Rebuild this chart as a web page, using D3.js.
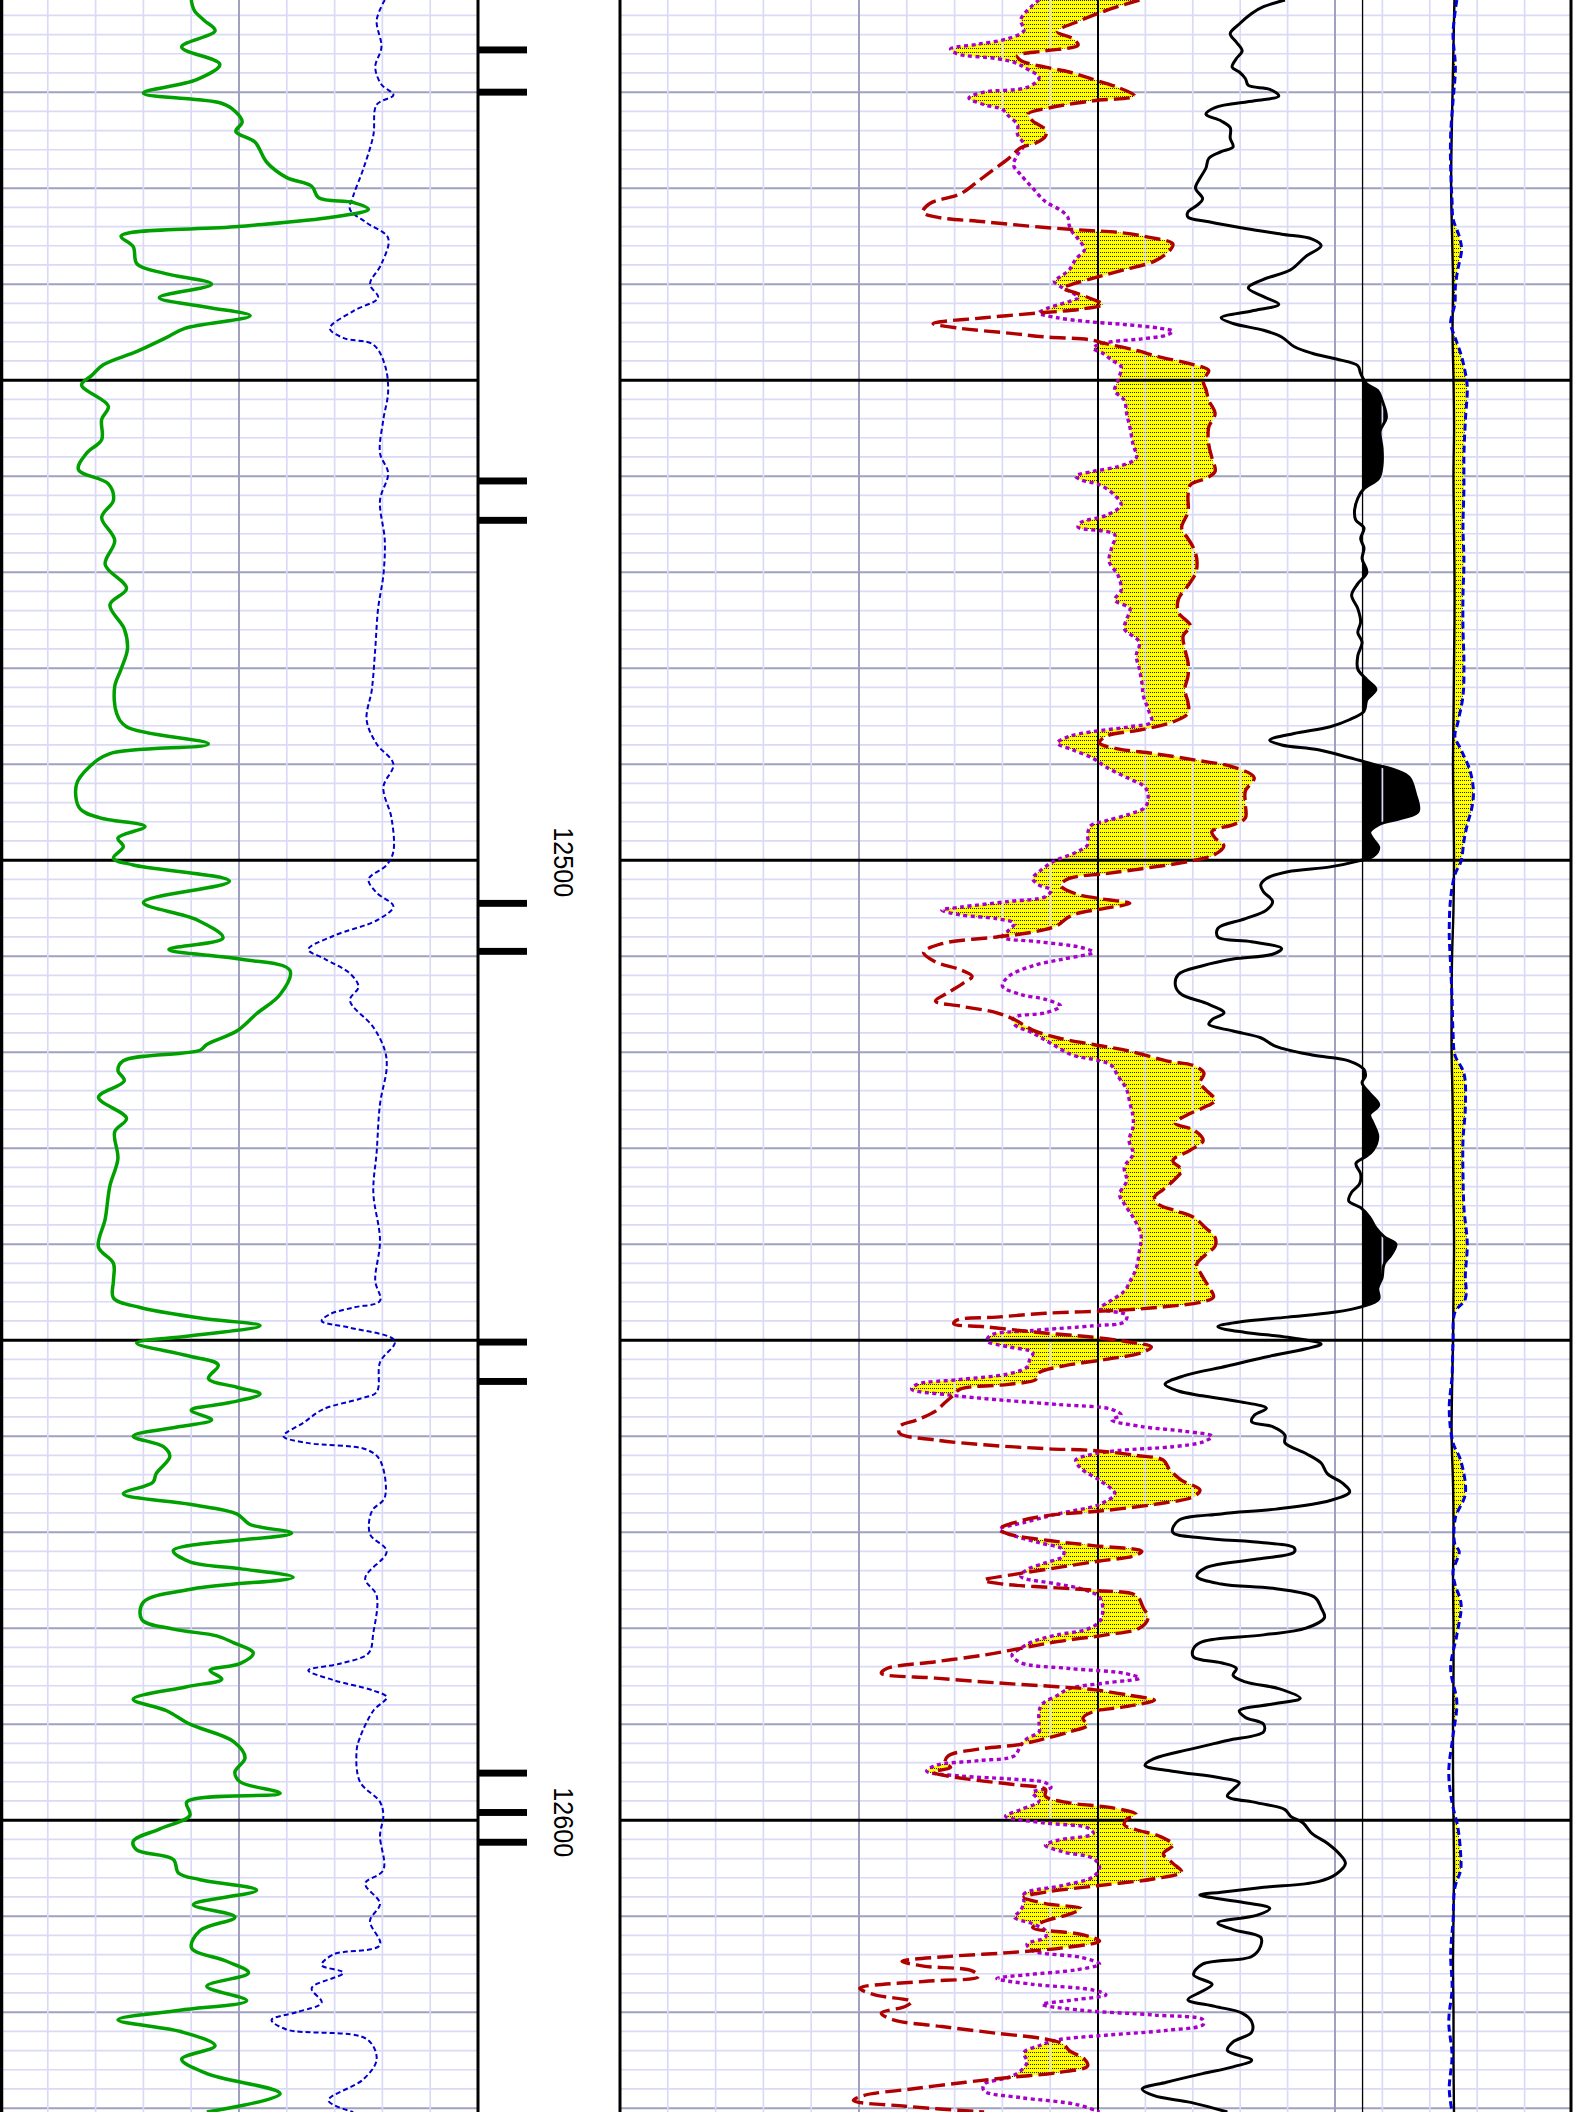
<!DOCTYPE html>
<html><head><meta charset="utf-8">
<script src="https://cdn.jsdelivr.net/npm/d3@7"></script>
<style>html,body{margin:0;padding:0;background:#fff;} svg{display:block;}</style>
</head><body>
<script>
// ---------- DATA (depth, value) ----------
const DEPTH_TOP = 12410.4, DEPTH_BOTTOM = 12630.4;
const DEPTH_LABELS = [12500, 12600];
const DEPTH_MARKS = [12415.6, 12420.0, 12460.5, 12464.6, 12504.5, 12509.5, 12550.2, 12554.3, 12595.1, 12599.2, 12602.3];
const RT_CUTOFF = 156;
// Track 1: gamma ray (API, 0-150)
const GR = [[12410.4,60],[12411.5,61],[12412.5,64],[12413.6,67.5],[12415.3,57],[12417.1,69],[12418.7,61.7],[12420.1,45],[12421.1,69],[12421.7,72.7],[12423.1,76],[12424.1,74],[12425.2,80],[12427.3,83.7],[12428.9,90],[12429.8,97.8],[12431,100],[12431.5,111],[12432.2,115.6],[12433,104.6],[12434,74.8],[12435,38],[12436.1,41.8],[12437.9,43],[12438.9,52],[12440,66.4],[12441.4,50],[12442.4,65],[12443.3,78.5],[12444.6,58],[12445.6,52],[12447,43],[12448.4,32.4],[12449.5,28.8],[12450.5,25.6],[12452.7,34],[12454.1,31.9],[12456.2,31.9],[12457.6,27.2],[12459.3,24.6],[12460.8,34],[12462.5,35.6],[12464.3,31.9],[12466.7,36],[12469.2,33],[12471.7,39.7],[12473.4,34.5],[12475.9,39],[12478,40],[12480.1,38],[12481.9,36],[12484.7,36.6],[12486.1,39.7],[12487.9,65.4],[12488.9,34.5],[12490.3,28],[12492.1,24],[12494.6,25],[12495.6,31.4],[12496.5,45.5],[12497.7,37],[12498.6,38.7],[12499.8,35.6],[12500.5,41.8],[12502.2,72],[12504.4,45],[12506.2,61.7],[12508.1,70],[12509.3,53],[12510.3,75.3],[12511.5,91],[12514,87.9],[12516,80.5],[12517.8,74.3],[12519.2,64.9],[12519.8,62.8],[12520.9,38.7],[12521.9,37],[12523,39],[12524.7,30.9],[12526.9,39.7],[12528.3,36],[12531.1,37],[12533.9,34.5],[12537.4,33],[12540.3,30.9],[12542,35.6],[12543.8,35.6],[12545.6,35.6],[12546.6,44],[12547.7,62.8],[12548.5,81.6],[12549.6,58.6],[12550.3,42.9],[12551.6,58.6],[12552.6,68.5],[12554,65.4],[12554.9,74.3],[12555.6,81.6],[12556.5,72.2],[12557.3,60],[12558.3,66.4],[12559,56.5],[12560,41.8],[12561.1,51.3],[12562.1,53.3],[12563.9,49],[12564.8,48],[12566,38.7],[12567.1,59.6],[12568.1,74.3],[12569.2,78.5],[12570.1,91.5],[12571.9,54.4],[12573.1,59.6],[12573.8,75.3],[12574.7,92],[12575.9,60.7],[12577.3,45],[12579.1,44.5],[12580.1,54.4],[12580.8,68],[12581.5,73.2],[12582.6,79.5],[12583.7,75.3],[12584.4,65.9],[12585.3,69.6],[12586.1,58.6],[12587.4,41.8],[12588.6,52.3],[12590,59.6],[12591.8,73.2],[12593.5,76.9],[12595,73.7],[12596,75.3],[12597.2,87.9],[12598.1,58.6],[12599.5,59.6],[12600.9,50.2],[12602.2,41.8],[12603.1,42.9],[12604.1,54.4],[12605.5,56],[12606.2,62.8],[12607.3,80.5],[12608.8,60.7],[12610.1,73.7],[12611.5,62.8],[12613.3,60.1],[12614.7,71.1],[12615.9,78],[12617.3,64.9],[12618.8,77.4],[12619.8,56.5],[12620.8,37],[12622.1,57.5],[12623.5,67.5],[12624.9,57],[12626.4,64.9],[12628.5,87.9],[12630.4,64.9]];
// Track 1: caliper (in, 6-16)
const CALI = [[12410.4,14.05],[12412.5,13.88],[12415.3,13.98],[12417.4,13.85],[12419.2,13.98],[12420.3,14.23],[12421.3,13.88],[12424.5,13.81],[12428,13.6],[12430.8,13.39],[12432.2,13.32],[12433.6,13.67],[12435.2,14.12],[12437.9,13.98],[12440,13.74],[12441.4,13.91],[12442.8,13.39],[12444.6,12.9],[12445.6,13.18],[12446.3,13.81],[12448.4,14.05],[12451.2,14.12],[12454.1,14.02],[12457.6,13.95],[12459.7,14.12],[12462.5,13.95],[12466.7,14.05],[12470.3,14.02],[12473.8,13.91],[12478,13.85],[12482.2,13.78],[12485.4,13.67],[12487.9,13.88],[12490,14.23],[12492.4,14.02],[12495.6,14.19],[12499.1,14.23],[12500.5,14.09],[12502,13.71],[12503.4,13.88],[12504.8,14.23],[12506.2,13.91],[12507.9,12.97],[12509.3,12.45],[12510.3,12.8],[12511.8,13.32],[12513.2,13.5],[12514.6,13.32],[12517.4,13.81],[12519.8,14.05],[12521.6,14.09],[12525.4,13.95],[12530.4,13.88],[12534.6,13.81],[12539.6,13.95],[12543.8,13.85],[12545.9,13.95],[12546.6,13.39],[12547.3,12.9],[12548,12.73],[12548.7,13.32],[12550.1,14.26],[12552.3,13.95],[12555.4,13.88],[12556.1,13.53],[12557.2,12.76],[12558.6,12.35],[12560,11.93],[12560.7,12.42],[12561.4,13.67],[12562.5,13.95],[12566.4,14.05],[12567.8,13.78],[12570.2,13.74],[12572,14.09],[12574.8,13.64],[12576.6,13.88],[12580.5,13.81],[12582.6,13.71],[12583.7,13.11],[12584.4,12.45],[12585.4,12.97],[12586.5,13.81],[12587.2,14.09],[12588.6,13.81],[12591.4,13.53],[12592.8,13.46],[12596,13.53],[12598.1,13.95],[12599.5,14.02],[12601.6,13.95],[12605.2,14.02],[12606.6,13.64],[12608.7,13.95],[12610.5,13.74],[12613,13.95],[12614,12.97],[12615.1,12.73],[12615.9,13.18],[12617.5,12.52],[12619,12.73],[12620,12.21],[12620.8,11.68],[12621.8,11.99],[12622.8,13.67],[12624.9,13.88],[12627,13.6],[12629.2,12.87],[12630.4,13.39]];
// Track 2: neutron porosity (v/v, 0.45 .. -0.15), red dashed
const NPHI = [[12410.4,-0.202],[12411.5,-0.16],[12412.5,-0.129],[12413.7,-0.099],[12414.4,-0.118],[12415.1,-0.125],[12415.7,-0.084],[12416.2,-0.049],[12416.7,-0.053],[12417.4,-0.084],[12417.9,-0.114],[12418.6,-0.141],[12419.5,-0.175],[12420.4,-0.196],[12420.9,-0.144],[12421.6,-0.091],[12422.3,-0.062],[12423,-0.068],[12423.9,-0.084],[12424.6,-0.084],[12425.3,-0.072],[12425.8,-0.053],[12426.9,-0.038],[12428.3,-0.015],[12429.5,0.004],[12430.6,0.023],[12431.6,0.061],[12432.5,0.07],[12433,0.054],[12433.5,-0.007],[12434.1,-0.084],[12434.4,-0.137],[12434.6,-0.175],[12435.1,-0.213],[12435.8,-0.244],[12436.5,-0.24],[12437.6,-0.221],[12438.5,-0.183],[12439.2,-0.152],[12439.9,-0.122],[12440.4,-0.106],[12440.9,-0.122],[12441.6,-0.144],[12442.1,-0.156],[12442.6,-0.129],[12443,-0.076],[12443.5,-0.007],[12444.1,0.057],[12444.6,0.023],[12445.1,-0.038],[12445.5,-0.084],[12445.8,-0.141],[12446.2,-0.16],[12446.9,-0.198],[12447.6,-0.228],[12448.3,-0.266],[12449,-0.289],[12450,-0.282],[12451.1,-0.286],[12452.1,-0.289],[12453.5,-0.297],[12454.9,-0.289],[12456.7,-0.289],[12458.1,-0.293],[12459.5,-0.297],[12460.2,-0.286],[12460.9,-0.266],[12462,-0.263],[12463.7,-0.263],[12465.4,-0.255],[12466.5,-0.263],[12467.5,-0.27],[12468.6,-0.274],[12470,-0.273],[12471.4,-0.263],[12472.8,-0.251],[12474.2,-0.251],[12475.6,-0.266],[12476.6,-0.257],[12478,-0.259],[12479.4,-0.263],[12480.8,-0.263],[12482.2,-0.259],[12483.6,-0.263],[12484.7,-0.263],[12485.6,-0.244],[12486.4,-0.205],[12487.1,-0.16],[12487.8,-0.152],[12488.4,-0.175],[12488.9,-0.221],[12489.6,-0.274],[12490.3,-0.32],[12491.4,-0.346],[12492.8,-0.335],[12494.2,-0.335],[12495.6,-0.335],[12496.3,-0.32],[12497,-0.293],[12497.7,-0.297],[12498.5,-0.308],[12499.4,-0.297],[12500.1,-0.266],[12500.8,-0.213],[12501.4,-0.16],[12501.9,-0.114],[12502.6,-0.103],[12503.5,-0.122],[12504,-0.152],[12504.5,-0.19],[12505,-0.16],[12505.6,-0.122],[12506.1,-0.11],[12506.8,-0.099],[12507.5,-0.068],[12508,-0.023],[12508.7,0.046],[12509.6,0.069],[12510.6,0.054],[12511.4,0.023],[12512.1,0.008],[12512.8,0.019],[12513.8,0.038],[12514.7,0.054],[12515.2,0.023],[12515.9,-0.023],[12516.6,-0.045],[12517.7,-0.068],[12518.5,-0.099],[12519.2,-0.144],[12519.9,-0.19],[12520.9,-0.236],[12521.4,-0.27],[12522.2,-0.283],[12523.2,-0.278],[12523.9,-0.285],[12525,-0.297],[12525.8,-0.282],[12526.5,-0.263],[12527.4,-0.247],[12528.1,-0.27],[12529.2,-0.282],[12530.2,-0.266],[12531.3,-0.244],[12532.3,-0.255],[12533.2,-0.247],[12534.3,-0.232],[12535.1,-0.221],[12535.8,-0.225],[12536.5,-0.247],[12537.2,-0.27],[12538.3,-0.285],[12539.3,-0.297],[12540.2,-0.297],[12541.1,-0.285],[12542.1,-0.274],[12543.2,-0.28],[12544.3,-0.288],[12545.5,-0.295],[12546,-0.282],[12546.5,-0.236],[12546.9,-0.175],[12547.2,-0.084],[12547.6,-0.023],[12547.9,0.027],[12548.3,0.031],[12548.6,-0.007],[12549.2,-0.076],[12549.7,-0.144],[12550.2,-0.19],[12550.7,-0.217],[12551.3,-0.205],[12552,-0.16],[12552.7,-0.106],[12553.4,-0.076],[12554.1,-0.072],[12554.6,-0.038],[12555.1,0.023],[12555.7,0.031],[12556.5,0.042],[12557.4,0.054],[12558.3,0.077],[12559,0.099],[12559.7,0.099],[12560.4,0.054],[12560.9,-0.007],[12561.3,-0.084],[12561.5,-0.144],[12562,-0.198],[12562.5,-0.232],[12563.5,-0.24],[12564.6,-0.255],[12565.6,-0.278],[12566.3,-0.27],[12567.1,-0.221],[12567.8,-0.152],[12568.3,-0.084],[12569,-0.045],[12569.7,-0.026],[12570.2,-0.038],[12570.9,-0.091],[12571.4,-0.144],[12572,-0.205],[12572.5,-0.194],[12573,-0.152],[12573.7,-0.099],[12574.4,-0.045],[12575,-0.007],[12575.4,-0.03],[12575.8,-0.099],[12576.1,-0.152],[12576.6,-0.198],[12577.9,-0.207],[12578.9,-0.213],[12580,-0.202],[12580.7,-0.16],[12581.4,-0.099],[12582.1,-0.053],[12582.8,-0.007],[12583.5,0.054],[12584.2,0.115],[12584.7,0.122],[12585.2,0.054],[12585.7,-0.023],[12586.1,-0.099],[12586.4,-0.144],[12587,-0.19],[12587.5,-0.221],[12588.2,-0.183],[12588.7,-0.144],[12589.4,-0.131],[12590.1,-0.137],[12590.8,-0.114],[12591.5,-0.084],[12592.1,-0.053],[12592.6,0.0],[12593.3,0.038],[12594,0.042],[12594.5,0.035],[12595,0.057],[12595.7,0.016],[12596.3,-0.045],[12596.8,-0.084],[12597.5,-0.084],[12598.2,-0.114],[12598.7,-0.167],[12599.4,-0.198],[12599.9,-0.186],[12600.5,-0.183],[12601,-0.198],[12601.7,-0.228],[12602.6,-0.244],[12603.5,-0.232],[12604.5,-0.244],[12605.4,-0.255],[12606.1,-0.221],[12606.8,-0.152],[12607.5,-0.084],[12608,-0.057],[12608.7,-0.084],[12609.2,-0.129],[12609.8,-0.114],[12610.5,-0.084],[12611.2,-0.068],[12611.9,-0.129],[12612.6,-0.152],[12613.3,-0.106],[12613.8,-0.038],[12614.2,0.038],[12614.7,0.096],[12615.2,0.069],[12615.7,0.008],[12616.3,0.0],[12616.8,0.069],[12617.5,0.149],[12618.2,0.13],[12618.9,0.084],[12619.4,0.092],[12620.1,0.122],[12620.8,0.107],[12621.5,0.046],[12622.2,-0.023],[12622.8,-0.084],[12623.3,-0.106],[12624,-0.114],[12624.9,-0.133],[12625.6,-0.137],[12626.3,-0.099],[12626.8,-0.038],[12627.3,0.016],[12628,0.084],[12628.7,0.145],[12629.2,0.157],[12629.8,0.092],[12630.4,-0.007]];
// Track 2: density porosity (v/v, 0.45 .. -0.15), magenta dotted
const DPHI = [[12410.4,-0.076],[12411.5,-0.061],[12412.5,-0.053],[12413.6,-0.057],[12414.4,-0.038],[12415,0.0],[12415.5,0.035],[12416,0.027],[12416.5,-0.023],[12416.9,-0.045],[12417.4,-0.057],[12418.5,-0.076],[12419.5,-0.061],[12420,-0.007],[12420.6,0.012],[12421.3,-0.007],[12421.8,-0.03],[12422.5,-0.038],[12423.4,-0.049],[12424.4,-0.049],[12425.5,-0.057],[12426.5,-0.049],[12427.6,-0.044],[12428.6,-0.053],[12430,-0.068],[12431.4,-0.084],[12432.3,-0.103],[12433,-0.112],[12433.9,-0.114],[12434.6,-0.118],[12435.3,-0.125],[12436.4,-0.133],[12437.4,-0.122],[12438.5,-0.114],[12439.2,-0.103],[12439.7,-0.095],[12440.4,-0.106],[12440.9,-0.118],[12441.4,-0.125],[12442,-0.106],[12442.5,-0.087],[12443,-0.076],[12443.5,-0.099],[12443.9,-0.137],[12444.2,-0.183],[12444.6,-0.228],[12444.9,-0.244],[12445.3,-0.236],[12445.7,-0.205],[12446,-0.167],[12446.4,-0.148],[12446.7,-0.144],[12447.2,-0.156],[12447.9,-0.167],[12448.6,-0.179],[12450,-0.175],[12451.1,-0.171],[12452.1,-0.183],[12453.5,-0.186],[12454.9,-0.19],[12456.7,-0.194],[12458.1,-0.198],[12459,-0.175],[12459.5,-0.144],[12460,-0.122],[12460.4,-0.129],[12460.9,-0.152],[12462,-0.171],[12463,-0.179],[12464.1,-0.16],[12464.8,-0.129],[12465.3,-0.125],[12466.1,-0.171],[12467.5,-0.167],[12468.9,-0.164],[12470.3,-0.175],[12471.9,-0.179],[12472.9,-0.171],[12473.8,-0.19],[12474.9,-0.186],[12475.9,-0.183],[12477.3,-0.202],[12478.7,-0.198],[12480.1,-0.202],[12481.5,-0.205],[12482.9,-0.207],[12484.3,-0.213],[12485.6,-0.217],[12486.1,-0.19],[12486.6,-0.144],[12487.1,-0.114],[12487.8,-0.099],[12488.5,-0.118],[12489.4,-0.144],[12490.3,-0.16],[12491.4,-0.186],[12492.4,-0.209],[12493.5,-0.213],[12494.5,-0.209],[12495.2,-0.19],[12495.9,-0.16],[12496.4,-0.141],[12497.3,-0.137],[12498.4,-0.137],[12499.2,-0.122],[12500.1,-0.095],[12501.2,-0.076],[12501.9,-0.068],[12502.6,-0.076],[12503.1,-0.091],[12503.8,-0.084],[12504.3,-0.038],[12504.9,0.023],[12505.2,0.046],[12505.7,0.023],[12506.1,-0.023],[12506.6,-0.045],[12507.3,-0.038],[12508,-0.03],[12508.5,-0.076],[12509.1,-0.129],[12509.6,-0.144],[12510.3,-0.106],[12511,-0.068],[12512.1,-0.038],[12513.1,-0.03],[12514,-0.053],[12514.5,-0.084],[12515.2,-0.103],[12515.9,-0.084],[12516.4,-0.045],[12517.1,-0.045],[12518,-0.068],[12519.1,-0.091],[12520.3,-0.118],[12520.9,-0.152],[12521.4,-0.167],[12522.5,-0.175],[12523.9,-0.186],[12525.3,-0.19],[12526.7,-0.194],[12527.8,-0.194],[12529.2,-0.189],[12530.6,-0.194],[12532,-0.183],[12533.4,-0.186],[12534.8,-0.177],[12535.8,-0.183],[12537.2,-0.194],[12539,-0.204],[12540.7,-0.202],[12542.5,-0.198],[12543.9,-0.19],[12544.9,-0.183],[12546,-0.164],[12546.7,-0.152],[12547.4,-0.186],[12548.1,-0.183],[12548.5,-0.144],[12549,-0.068],[12549.5,-0.015],[12550.1,-0.011],[12550.7,-0.038],[12551.3,-0.068],[12552.1,-0.064],[12552.8,-0.061],[12553.5,-0.038],[12554.1,0.023],[12554.6,0.077],[12555.1,0.084],[12555.7,0.038],[12556.2,-0.023],[12556.7,-0.099],[12557.2,-0.167],[12557.8,-0.179],[12558.3,-0.167],[12559,-0.205],[12559.5,-0.259],[12560,-0.293],[12560.6,-0.282],[12561.1,-0.244],[12561.5,-0.175],[12562,-0.137],[12562.5,-0.122],[12563.4,-0.129],[12564.6,-0.152],[12566,-0.171],[12567.1,-0.152],[12568.1,-0.099],[12569,-0.057],[12569.7,-0.026],[12570.2,-0.038],[12571.1,-0.076],[12571.8,-0.106],[12572.5,-0.106],[12573.2,-0.084],[12573.9,-0.061],[12574.6,-0.053],[12575.4,-0.099],[12575.9,-0.129],[12576.8,-0.152],[12578.2,-0.156],[12579.3,-0.152],[12580.1,-0.137],[12580.7,-0.099],[12581.4,-0.068],[12582.1,-0.053],[12582.8,-0.042],[12583.6,-0.053],[12584.2,-0.114],[12584.7,-0.183],[12585.2,-0.202],[12585.7,-0.16],[12586.3,-0.114],[12587,-0.099],[12587.9,-0.08],[12588.7,-0.076],[12589.8,-0.076],[12590.8,-0.076],[12591.5,-0.061],[12592.2,-0.053],[12593.3,-0.045],[12593.8,0.0],[12594.3,0.054],[12594.9,0.065],[12595.4,0.023],[12595.7,-0.038],[12596.1,-0.084],[12596.6,-0.091],[12597.1,-0.068],[12598,-0.076],[12598.9,-0.053],[12599.6,-0.034],[12600.3,-0.084],[12600.8,-0.137],[12601.4,-0.144],[12602.1,-0.099],[12602.6,-0.084],[12603.3,-0.106],[12604,-0.144],[12604.9,-0.152],[12605.9,-0.144],[12606.8,-0.106],[12607.7,-0.057],[12608.5,-0.057],[12609.4,-0.053],[12610.1,-0.045],[12610.8,-0.068],[12611.5,-0.084],[12612.2,-0.084],[12612.9,-0.061],[12613.6,-0.068],[12614.3,-0.129],[12615,-0.152],[12615.6,-0.122],[12616.1,-0.061],[12616.5,-0.023],[12617.1,-0.068],[12617.7,-0.144],[12618.2,-0.16],[12618.7,-0.122],[12619.2,-0.08],[12619.8,-0.129],[12620.3,-0.221],[12620.8,-0.282],[12621.3,-0.282],[12621.9,-0.236],[12622.4,-0.16],[12622.9,-0.099],[12623.5,-0.076],[12624.2,-0.057],[12625.2,-0.061],[12626.1,-0.053],[12626.8,-0.038],[12627.5,-0.007],[12628.2,-0.007],[12628.9,-0.053],[12629.6,-0.122],[12630.4,-0.152]];
// Tracks 2-3: resistivity-type curve, black solid (0-200 across both tracks)
const RT = [[12410.4,139.7],[12411.1,135.2],[12411.8,132.7],[12412.9,130.1],[12413.9,128.2],[12414.8,129.5],[12415.7,130.7],[12416.5,129.5],[12417.4,128.6],[12417.9,130.1],[12418.6,131.4],[12419.3,132],[12419.7,136.5],[12420.4,138.4],[12420.9,133.3],[12421.6,125],[12422.3,123.1],[12423,126.3],[12423.7,128.2],[12424.8,128.2],[12425.7,128.8],[12426.2,126.3],[12426.9,123.7],[12427.9,123.1],[12429,121.8],[12430,120.9],[12431.1,122.4],[12431.8,121.2],[12432.5,119.3],[12433,119.3],[12433.5,123.7],[12434.2,131.4],[12434.8,139],[12435.3,145.4],[12436,147.3],[12437.1,144.1],[12438.5,140.9],[12439.5,135.2],[12440.4,132],[12441.3,135.2],[12442.1,138.4],[12442.8,132.7],[12443.5,126.3],[12444.1,128.8],[12444.8,135.2],[12445.5,139],[12446.5,141.6],[12447.2,145.4],[12447.8,150.5],[12448.5,155],[12449.3,155.6],[12450.4,156.9],[12451.1,159.2],[12452.1,160.1],[12453.9,161],[12455.3,159.7],[12457.1,160.1],[12458.8,160.1],[12460.2,159.4],[12461.3,156.3],[12462.3,155],[12463.7,154.3],[12464.6,154.6],[12465.4,156.3],[12466.5,155.6],[12467.5,156.3],[12468.6,155.9],[12470,156.9],[12471.2,155],[12472.4,153.7],[12473.8,155],[12475.2,155.6],[12476.3,155],[12477.3,155.9],[12478.7,155],[12480.1,155],[12481.2,156.9],[12482.2,158.8],[12483.3,156.9],[12484.5,156.3],[12485.4,153.1],[12486.1,149.2],[12486.8,141.6],[12487.5,136.5],[12488,139],[12488.5,146.7],[12489.3,153.1],[12490,158.2],[12490.7,163.3],[12491.4,165.8],[12493.1,167.1],[12494.9,167.7],[12495.6,164.5],[12496.3,159.4],[12497.1,157.5],[12497.8,158.2],[12498.7,159.4],[12499.6,158.2],[12500.1,155],[12500.7,149.2],[12501.2,140.3],[12501.9,135.8],[12502.6,134.6],[12503.3,135.2],[12504.3,137.1],[12505.2,135.8],[12506.1,131.4],[12507.1,125.6],[12508,125.6],[12508.5,132.7],[12509.2,139],[12509.8,137.1],[12510.3,128.8],[12511,122.4],[12511.9,117.3],[12513.1,116.7],[12514,118],[12514.9,123.1],[12515.9,126.9],[12516.6,124.4],[12517.1,123.7],[12517.8,128.8],[12518.5,134.6],[12519.4,137.8],[12520.3,145.4],[12520.9,153.1],[12521.8,156.3],[12522.5,156.6],[12523.2,155.9],[12524.3,157.5],[12525.5,159.4],[12526.5,157.5],[12527.4,158.2],[12528.8,159.2],[12530.2,158.2],[12530.9,156.6],[12531.6,154.6],[12532.7,155.6],[12533.7,155.4],[12534.6,153.7],[12535.5,153.1],[12536.2,155.6],[12537.2,157.5],[12538.3,158.8],[12539.3,160.7],[12540,163],[12541.1,162],[12542.1,160.5],[12543.5,160.1],[12544.6,159.2],[12545.7,159.4],[12546.5,155.9],[12547.1,149.9],[12547.6,140.3],[12548.1,130.1],[12548.6,125.6],[12549.2,131.4],[12549.7,140.3],[12550.4,147.3],[12550.9,144.1],[12551.8,135.2],[12552.7,127.6],[12553.7,118.6],[12554.6,114.5],[12555.3,117.3],[12555.8,122.4],[12556.4,130.1],[12557.1,135.8],[12557.8,133.3],[12558.5,132.7],[12559,137.1],[12559.9,139.7],[12560.7,139.7],[12561.8,144.1],[12562.8,147.3],[12563.9,148.6],[12564.9,151.8],[12565.8,153.3],[12566.7,149.2],[12567.6,137.8],[12568.1,126.3],[12568.8,117.3],[12570,116.1],[12570.6,122.4],[12571.1,135.2],[12571.6,141.6],[12572.1,141.6],[12572.8,133.9],[12573.7,123.1],[12574.6,121.2],[12575.4,126.3],[12575.9,137.8],[12576.8,146],[12577.9,147.3],[12578.9,148],[12580,144.1],[12580.7,135.2],[12581.4,122.4],[12582.1,120.5],[12583,120.5],[12583.6,126.3],[12584.2,129.5],[12584.9,128.8],[12585.6,131.4],[12586.3,138.4],[12587.3,142.9],[12587.9,137.1],[12588.6,130.1],[12589.3,131.4],[12590,135.2],[12590.8,135.2],[12591.7,127.6],[12592.6,119.9],[12593.6,112.2],[12594.3,110.3],[12594.9,116.1],[12595.6,126.3],[12596.1,130.1],[12596.8,128.8],[12597.5,127.6],[12598.2,133.9],[12598.9,139.7],[12599.6,140.9],[12600.3,143.5],[12601.4,145.4],[12602.4,148.6],[12603.5,151.1],[12604.5,152.4],[12605.6,150.5],[12606.4,146.7],[12607,135.2],[12607.5,126.3],[12607.8,121.8],[12608.5,130.1],[12609.2,136.5],[12609.9,133.9],[12610.7,125.6],[12611.4,128.8],[12612.2,134.6],[12613.1,134.6],[12614.2,132.7],[12615,122.4],[12616.1,120.5],[12617.1,124.4],[12617.8,122.4],[12618.7,119.3],[12619.4,125],[12620.1,130.7],[12621,132.7],[12622.1,132.7],[12623.1,128.8],[12624,127.6],[12625,132.7],[12625.7,128.8],[12626.4,122.4],[12627.3,114.8],[12628,109.7],[12628.7,112.2],[12629.4,119.9],[12630.4,127.6]];
// Track 3: blue dashed curve (0-1) and its black reference curve
const PE = [[12410.4,0.757],[12413.9,0.749],[12417.4,0.754],[12420.9,0.749],[12424.4,0.744],[12427.9,0.744],[12431.4,0.747],[12433.2,0.749],[12435,0.762],[12436.4,0.767],[12438.5,0.759],[12440.2,0.754],[12442,0.753],[12444.1,0.744],[12445.5,0.753],[12447.2,0.765],[12449,0.774],[12450.7,0.779],[12454.2,0.775],[12457.8,0.772],[12461.3,0.772],[12465.3,0.77],[12468.9,0.772],[12472.4,0.77],[12475.9,0.77],[12479.4,0.772],[12482.9,0.77],[12485.7,0.759],[12487.1,0.753],[12488.5,0.766],[12490.7,0.785],[12492.8,0.792],[12494.5,0.789],[12496.3,0.779],[12498,0.772],[12500.1,0.766],[12501.5,0.753],[12504,0.744],[12507.5,0.741],[12511,0.744],[12514.5,0.747],[12518,0.749],[12520.3,0.753],[12522.2,0.772],[12525.7,0.775],[12529.2,0.77],[12532.7,0.77],[12536.2,0.772],[12540,0.779],[12543.2,0.775],[12545.7,0.775],[12547.1,0.753],[12550.2,0.749],[12553.7,0.747],[12557.2,0.741],[12560.7,0.749],[12562.5,0.765],[12566,0.775],[12568.5,0.754],[12571.3,0.753],[12572,0.762],[12574.1,0.749],[12575.4,0.753],[12577.5,0.766],[12580.7,0.757],[12584.2,0.744],[12587.7,0.757],[12591.2,0.749],[12595,0.74],[12598.2,0.747],[12600.7,0.759],[12603.5,0.765],[12605.2,0.765],[12607,0.753],[12610.5,0.749],[12614,0.744],[12617.5,0.747],[12621,0.74],[12624.5,0.747],[12628,0.741],[12630.4,0.747]];
const PE_REF = [[12410.4,0.752],[12415,0.75],[12420,0.748],[12425,0.746],[12430,0.745],[12435,0.747],[12440,0.749],[12445,0.748],[12450,0.75],[12455,0.751],[12460,0.75],[12465,0.751],[12470,0.752],[12475,0.752],[12480,0.751],[12485,0.75],[12490,0.749],[12495,0.75],[12500,0.751],[12505,0.75],[12510,0.747],[12515,0.746],[12520,0.746],[12525,0.748],[12530,0.749],[12535,0.75],[12540,0.751],[12545,0.75],[12550,0.749],[12555,0.747],[12560,0.746],[12565,0.749],[12570,0.75],[12575,0.749],[12580,0.75],[12585,0.75],[12590,0.749],[12595,0.749],[12600,0.75],[12605,0.751],[12610,0.75],[12615,0.749],[12620,0.75],[12625,0.75],[12630.4,0.751]];

// ---------- LAYOUT ----------
const W = 1584, H = 2112;
const T1 = [0, 478], T2 = [620, 1098], T3 = [1098, 1572];
const svg = d3.select("body").append("svg").attr("width", W).attr("height", H)
  .style("font-family", "'Liberation Sans', Arial, sans-serif");
svg.append("rect").attr("width", W).attr("height", H).attr("fill", "#fff");

const y = d3.scaleLinear().domain([DEPTH_TOP, DEPTH_BOTTOM]).range([0, H]);
const xGR = d3.scaleLinear().domain([0, 150]).range(T1);
const xCALI = d3.scaleLinear().domain([6, 16]).range(T1);
const xPOR = d3.scaleLinear().domain([0.45, -0.15]).range(T2);
const xRT = d3.scaleLinear().domain([0, 200]).range([T2[0], T3[1]]);
const xPE = d3.scaleLinear().domain([0, 1]).range(T3);

const defs = svg.append("defs");
const pat = defs.append("pattern").attr("id", "yel").attr("width", 2).attr("height", 4)
  .attr("patternUnits", "userSpaceOnUse");
pat.append("rect").attr("width", 2).attr("height", 4).attr("fill", "#ffff00");
pat.append("rect").attr("width", 1).attr("height", 1).attr("fill", "#222");

const MINOR = "#dadaf6", MAJOR = "#a0a0c0";
const tracks = [T1, T2, T3];

// horizontal grid (under fills)
const depthsMinor = d3.range(Math.ceil(DEPTH_TOP / 2) * 2, DEPTH_BOTTOM, 2);
const gH = svg.append("g");
depthsMinor.forEach(d => {
  if (d % 50 === 0) return;
  const major = d % 10 === 0;
  [T1, [T2[0], T3[1]]].forEach(t => {
    gH.append("line").attr("x1", t[0]).attr("x2", t[1]).attr("y1", y(d)).attr("y2", y(d))
      .attr("stroke", major ? MAJOR : MINOR).attr("stroke-width", major ? 2 : 1.7);
  });
});

// ---------- FILLS ----------
const lineFor = (xs) => d3.line().x(d => xs(d[1])).y(d => y(d[0])).curve(d3.curveCatmullRom.alpha(0.5));
function betweenPath(a, xa, b, xb) {
  const p1 = lineFor(xa)(a);
  const p2 = lineFor(xb)(b.slice().reverse()).replace(/^M/, "L");
  return p1 + p2 + "Z";
}
function rightOfPath(b, xb) {
  const p = lineFor(xb)(b);
  return p + `L${W + 50},${y(b[b.length - 1][0])}L${W + 50},${y(b[0][0])}Z`;
}
defs.append("clipPath").attr("id", "clipD").append("path").attr("d", rightOfPath(DPHI, xPOR));
defs.append("clipPath").attr("id", "clipPE").append("path").attr("d", rightOfPath(PE_REF, xPE));
defs.append("clipPath").attr("id", "clipRT").append("rect")
  .attr("x", xRT(RT_CUTOFF)).attr("y", 0).attr("width", W).attr("height", H);

svg.append("path").attr("d", betweenPath(NPHI, xPOR, DPHI, xPOR))
  .attr("fill", "url(#yel)").attr("clip-path", "url(#clipD)");
const rtLine = lineFor(xRT)(RT);
svg.append("path")
  .attr("d", rtLine + `L${xRT(RT_CUTOFF)},${y(RT[RT.length - 1][0])}L${xRT(RT_CUTOFF)},${y(RT[0][0])}Z`)
  .attr("fill", "#000").attr("clip-path", "url(#clipRT)");
svg.append("path").attr("d", betweenPath(PE, xPE, PE_REF, xPE))
  .attr("fill", "url(#yel)").attr("clip-path", "url(#clipPE)");

// vertical grid (over fills)
const gV = svg.append("g");
tracks.forEach(t => {
  const step = (t[1] - t[0]) / 10;
  d3.range(1, 10).forEach(i => {
    gV.append("line").attr("x1", t[0] + i * step).attr("x2", t[0] + i * step).attr("y1", 0).attr("y2", H)
      .attr("stroke", i === 5 ? MAJOR : MINOR).attr("stroke-width", i === 5 ? 2 : 1.7);
  });
});

// black depth lines every 50
d3.range(Math.ceil(DEPTH_TOP / 50) * 50, DEPTH_BOTTOM, 50).forEach(d => {
  [T1, [T2[0], T3[1]]].forEach(t => {
    svg.append("line").attr("x1", t[0]).attr("x2", t[1]).attr("y1", y(d)).attr("y2", y(d))
      .attr("stroke", "#000").attr("stroke-width", 3);
  });
});

// borders
[[1.5, 3.5], [478, 3], [620, 3], [1571, 3], [1098, 2]].forEach(([x, w]) => {
  svg.append("line").attr("x1", x).attr("x2", x).attr("y1", 0).attr("y2", H)
    .attr("stroke", "#000").attr("stroke-width", w);
});
// cutoff line
svg.append("line").attr("x1", xRT(RT_CUTOFF)).attr("x2", xRT(RT_CUTOFF)).attr("y1", 0).attr("y2", H)
  .attr("stroke", "#000").attr("stroke-width", 1.3);

// ---------- CURVES ----------
function drawCurve(data, xs, color, width, dash) {
  const p = svg.append("path").attr("d", lineFor(xs)(data)).attr("fill", "none")
    .attr("stroke", color).attr("stroke-width", width).attr("stroke-linejoin", "round");
  if (dash) p.attr("stroke-dasharray", dash);
}
drawCurve(CALI, xCALI, "#0000cc", 2, "5,3");
drawCurve(GR, xGR, "#00a000", 3.5);
drawCurve(DPHI, xPOR, "#a800cc", 3.4, "4,3.5");
drawCurve(NPHI, xPOR, "#b00000", 3.4, "16,6");
drawCurve(RT, xRT, "#000", 3);
drawCurve(PE_REF, xPE, "#000", 2.4);
drawCurve(PE, xPE, "#0000dd", 3, "7,4");

// ---------- DEPTH TRACK ----------
const MARK_H = 0.72;
svg.append("g").selectAll("rect").data(DEPTH_MARKS).join("rect")
  .attr("x", 478).attr("width", 49)
  .attr("y", d => y(d - MARK_H / 2)).attr("height", d => y(d + MARK_H / 2) - y(d - MARK_H / 2))
  .attr("fill", "#000");
svg.append("g").selectAll("text").data(DEPTH_LABELS).join("text")
  .attr("transform", d => `translate(563,${y(d) + 2}) rotate(90)`)
  .attr("text-anchor", "middle").attr("dominant-baseline", "central")
  .attr("font-size", 28).attr("textLength", 70).attr("lengthAdjust", "spacingAndGlyphs")
  .attr("fill", "#000").text(d => d);
</script>
</body></html>
